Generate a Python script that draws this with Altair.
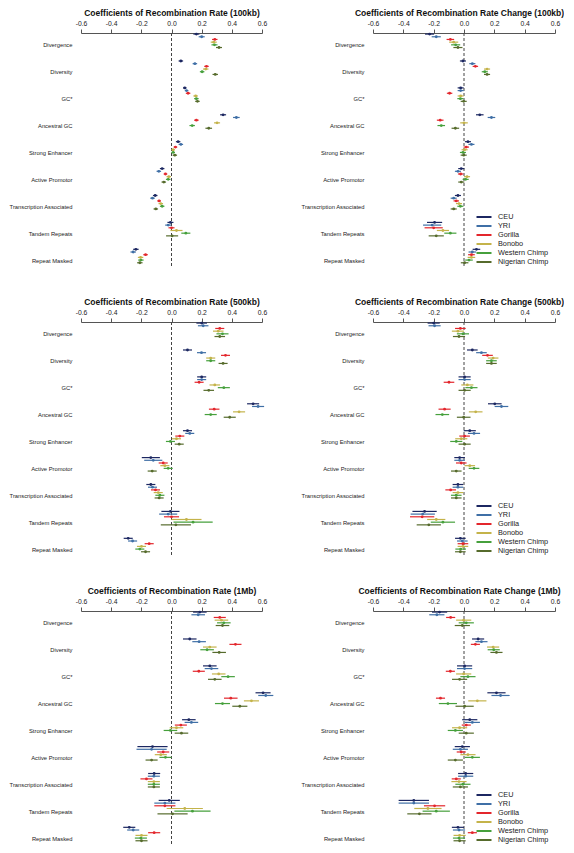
import altair as alt
import pandas as pd

categories = ["Divergence", "Diversity", "GC*", "Ancestral GC", "Strong Enhancer",
              "Active Promotor", "Transcription Associated", "Tandem Repeats", "Repeat Masked"]
series = ["CEU", "YRI", "Gorilla", "Bonobo", "Western Chimp", "Nigerian Chimp"]
colors = ["#1c2761", "#3f6fa6", "#e3262c", "#c4b34a", "#46a03c", "#566b2c"]
x_ticks = [-0.6, -0.4, -0.2, 0.0, 0.2, 0.4, 0.6]

rate100 = [
    [0.165, 0.200, 0.287, 0.280, 0.285, 0.315],
    [0.062, 0.155, 0.232, 0.227, 0.203, 0.290],
    [0.088, 0.100, 0.110, 0.160, 0.165, 0.172],
    [0.342, 0.430, 0.165, 0.302, 0.137, 0.247],
    [0.044, 0.062, 0.026, 0.011, 0.011, 0.022],
    [-0.062, -0.084, -0.040, -0.018, -0.022, -0.051],
    [-0.108, -0.126, -0.082, -0.071, -0.062, -0.104],
    [-0.007, -0.022, 0.000, 0.033, 0.095, 0.004],
    [-0.236, -0.254, -0.172, -0.205, -0.203, -0.210],
]
rate100_err = [
    [0.020, 0.020, 0.018, 0.020, 0.020, 0.020],
    [0.015, 0.015, 0.015, 0.018, 0.015, 0.018],
    [0.012, 0.012, 0.015, 0.015, 0.015, 0.015],
    [0.020, 0.022, 0.015, 0.020, 0.018, 0.022],
    [0.015, 0.015, 0.012, 0.012, 0.012, 0.015],
    [0.015, 0.015, 0.012, 0.015, 0.015, 0.015],
    [0.015, 0.015, 0.012, 0.015, 0.015, 0.015],
    [0.020, 0.020, 0.020, 0.040, 0.030, 0.040],
    [0.018, 0.018, 0.015, 0.018, 0.018, 0.018],
]
change100 = [
    [-0.227, -0.183, -0.090, -0.068, -0.055, -0.040],
    [-0.007, 0.055, 0.075, 0.152, 0.137, 0.152],
    [-0.022, -0.022, -0.095, -0.022, -0.024, -0.002],
    [0.104, 0.181, -0.157, 0.000, -0.150, -0.057],
    [0.026, 0.049, 0.015, 0.004, -0.007, -0.002],
    [-0.018, -0.040, -0.022, 0.020, 0.011, -0.018],
    [-0.040, -0.068, -0.051, -0.033, -0.024, -0.068],
    [-0.194, -0.210, -0.200, -0.139, -0.090, -0.183],
    [0.082, 0.055, 0.049, 0.049, 0.033, 0.004],
]
change100_err = [
    [0.030, 0.030, 0.025, 0.030, 0.030, 0.030],
    [0.020, 0.020, 0.018, 0.020, 0.020, 0.020],
    [0.020, 0.020, 0.018, 0.020, 0.020, 0.020],
    [0.025, 0.025, 0.022, 0.025, 0.025, 0.025],
    [0.020, 0.020, 0.018, 0.020, 0.020, 0.020],
    [0.020, 0.020, 0.018, 0.020, 0.020, 0.020],
    [0.020, 0.020, 0.018, 0.020, 0.020, 0.020],
    [0.050, 0.060, 0.060, 0.040, 0.040, 0.050],
    [0.025, 0.025, 0.022, 0.025, 0.025, 0.025],
]
rate500 = [
    [0.200, 0.210, 0.320, 0.310, 0.338, 0.320],
    [0.106, 0.199, 0.358, 0.260, 0.260, 0.342],
    [0.200, 0.200, 0.183, 0.287, 0.347, 0.247],
    [0.541, 0.574, 0.283, 0.448, 0.260, 0.386],
    [0.106, 0.121, 0.055, 0.033, -0.007, 0.051],
    [-0.137, -0.121, -0.055, -0.044, -0.022, -0.128],
    [-0.137, -0.126, -0.106, -0.088, -0.077, -0.082],
    [-0.007, -0.022, 0.000, 0.099, 0.143, 0.029],
    [-0.287, -0.258, -0.148, -0.199, -0.210, -0.172],
]
rate500_err = [
    [0.035, 0.035, 0.030, 0.035, 0.040, 0.035],
    [0.030, 0.030, 0.030, 0.030, 0.030, 0.030],
    [0.030, 0.030, 0.030, 0.035, 0.040, 0.035],
    [0.040, 0.040, 0.035, 0.040, 0.040, 0.040],
    [0.030, 0.030, 0.030, 0.030, 0.030, 0.030],
    [0.060, 0.060, 0.030, 0.030, 0.030, 0.030],
    [0.030, 0.030, 0.030, 0.030, 0.030, 0.030],
    [0.060, 0.060, 0.050, 0.100, 0.130, 0.100],
    [0.030, 0.030, 0.030, 0.030, 0.030, 0.030],
]
change500 = [
    [-0.200, -0.194, -0.024, -0.040, -0.007, -0.033],
    [0.055, 0.115, 0.155, 0.192, 0.181, 0.181],
    [0.004, 0.004, -0.099, 0.022, 0.049, 0.004],
    [0.203, 0.247, -0.128, 0.077, -0.143, -0.002],
    [0.038, 0.066, 0.004, -0.018, -0.051, 0.004],
    [-0.029, -0.029, -0.018, 0.038, 0.066, -0.051],
    [-0.040, -0.040, -0.088, -0.040, -0.051, -0.051],
    [-0.260, -0.272, -0.276, -0.183, -0.139, -0.232],
    [-0.024, -0.011, -0.007, -0.007, -0.022, -0.024],
]
change500_err = [
    [0.040, 0.040, 0.035, 0.040, 0.040, 0.040],
    [0.035, 0.035, 0.035, 0.035, 0.035, 0.035],
    [0.040, 0.040, 0.035, 0.040, 0.040, 0.040],
    [0.045, 0.045, 0.040, 0.045, 0.045, 0.045],
    [0.040, 0.040, 0.035, 0.040, 0.040, 0.040],
    [0.035, 0.035, 0.035, 0.035, 0.035, 0.035],
    [0.035, 0.035, 0.035, 0.035, 0.035, 0.035],
    [0.080, 0.080, 0.080, 0.060, 0.080, 0.080],
    [0.035, 0.035, 0.035, 0.035, 0.035, 0.035],
]
rate1m = [
    [0.188, 0.177, 0.320, 0.331, 0.347, 0.338],
    [0.121, 0.183, 0.424, 0.254, 0.236, 0.316],
    [0.254, 0.265, 0.181, 0.313, 0.375, 0.287],
    [0.607, 0.625, 0.393, 0.530, 0.338, 0.453],
    [0.115, 0.132, 0.062, 0.033, -0.007, 0.066],
    [-0.126, -0.132, -0.055, -0.071, -0.040, -0.132],
    [-0.115, -0.117, -0.166, -0.117, -0.117, -0.117],
    [-0.015, -0.044, -0.044, 0.088, 0.139, 0.007],
    [-0.280, -0.254, -0.115, -0.199, -0.203, -0.199],
]
rate1m_err = [
    [0.045, 0.045, 0.040, 0.045, 0.045, 0.045],
    [0.045, 0.045, 0.040, 0.045, 0.045, 0.045],
    [0.045, 0.045, 0.040, 0.045, 0.045, 0.045],
    [0.050, 0.050, 0.045, 0.050, 0.050, 0.050],
    [0.045, 0.045, 0.040, 0.045, 0.045, 0.045],
    [0.100, 0.100, 0.040, 0.040, 0.040, 0.040],
    [0.040, 0.040, 0.040, 0.040, 0.040, 0.040],
    [0.070, 0.070, 0.070, 0.120, 0.120, 0.100],
    [0.040, 0.040, 0.040, 0.040, 0.040, 0.040],
]
change1m = [
    [-0.161, -0.179, -0.088, -0.002, 0.015, -0.011],
    [0.093, 0.115, 0.075, 0.192, 0.196, 0.214],
    [0.004, 0.004, -0.090, -0.002, 0.026, -0.029],
    [0.214, 0.241, -0.155, 0.088, -0.106, 0.004],
    [0.038, 0.055, 0.015, -0.029, -0.057, 0.015],
    [-0.011, -0.024, -0.018, 0.026, 0.055, -0.057],
    [0.011, 0.011, -0.051, -0.033, -0.007, -0.024],
    [-0.331, -0.331, -0.194, -0.238, -0.183, -0.294],
    [-0.040, -0.033, 0.055, -0.029, -0.033, -0.029],
]
change1m_err = [
    [0.050, 0.050, 0.030, 0.050, 0.050, 0.050],
    [0.040, 0.040, 0.030, 0.040, 0.040, 0.040],
    [0.050, 0.050, 0.030, 0.050, 0.050, 0.050],
    [0.060, 0.060, 0.030, 0.060, 0.060, 0.060],
    [0.050, 0.050, 0.030, 0.050, 0.050, 0.050],
    [0.050, 0.050, 0.030, 0.050, 0.050, 0.050],
    [0.050, 0.050, 0.030, 0.050, 0.050, 0.050],
    [0.100, 0.100, 0.070, 0.090, 0.090, 0.080],
    [0.040, 0.040, 0.030, 0.040, 0.040, 0.040],
]

FONT = "Liberation Sans"
label_expr = "[" + ",".join("'" + c + "'" for c in categories) + "][datum.value]"


def panel_df(values, errs):
    rows = []
    for ci, cat in enumerate(categories):
        for si, ser in enumerate(series):
            v = values[ci][si]
            e = errs[ci][si]
            rows.append(dict(category=cat, series=ser, est=v, lo=v - e, hi=v + e,
                             ypos=ci + (si - 4) * 0.1))
    return pd.DataFrame(rows)


def panel(values, errs, title, width, legend, title_x):
    df = panel_df(values, errs)
    xscale = alt.Scale(domain=[-0.6, 0.6], nice=False, zero=False)
    yscale = alt.Scale(domain=[-0.44, 8.22], nice=False, zero=False, reverse=True)
    yaxis = alt.Axis(values=list(range(9)), labelExpr=label_expr, domain=False, ticks=False,
                     tickSize=0, grid=False, labelFontSize=5.8, labelPadding=9,
                     labelColor="#222222", title=None, labelFont=FONT,
                     minExtent=73, maxExtent=73)
    xaxis = alt.Axis(orient="top", values=x_ticks,
                     labelExpr="replace(format(datum.value, '.1f'), '\u2212', '-')",
                     grid=False, tickSize=4, labelPadding=3, labelFontSize=6.8,
                     labelFlush=False, domainColor="#555555", tickColor="#555555",
                     labelColor="#222222", labelFont=FONT,
                     minExtent=14, maxExtent=14,
                     title=title, titleFont=FONT, titleFontSize=8.5, titleFontWeight="bold",
                     titleColor="#111111", titleX=title_x, titleY=-17.5,
                     titleBaseline="alphabetic", titleAlign="center")
    zero = alt.Chart(pd.DataFrame({"z": [0.0]})).mark_rule(
        strokeDash=[3, 2], color="#444444", strokeWidth=1
    ).encode(x=alt.X("z:Q", scale=xscale, axis=xaxis))
    if legend:
        leg = alt.Legend(title=None, orient="none", legendX=107, legendY=180,
                         symbolType="M-2.5,0H2.5", symbolSize=36, symbolStrokeWidth=2,
                         labelFontSize=7.3, labelFont=FONT, labelOffset=10,
                         rowPadding=1, padding=0, labelColor="#222222")
    else:
        leg = None
    bars = alt.Chart(df).mark_rule(strokeWidth=1.2).encode(
        x=alt.X("lo:Q", scale=xscale, axis=xaxis),
        x2="hi:Q",
        y=alt.Y("ypos:Q", scale=yscale, axis=yaxis),
        color=alt.Color("series:N", scale=alt.Scale(domain=series, range=colors),
                        sort=series, legend=leg),
    )
    pts = alt.Chart(df).mark_point(filled=True, size=8, opacity=1).encode(
        x=alt.X("est:Q", scale=xscale, axis=xaxis),
        y=alt.Y("ypos:Q", scale=yscale, axis=yaxis),
        fill=alt.Fill("series:N", scale=alt.Scale(domain=series, range=colors), legend=None),
    )
    return alt.layer(zero, bars, pts).properties(width=width, height=233)


def row(left_vals, left_err, left_title, right_vals, right_err, right_title):
    return alt.hconcat(
        panel(left_vals, left_err, left_title, 181, False, 90.5),
        panel(right_vals, right_err, right_title, 182, True, 86),
        spacing=111, bounds="flush",
    ).resolve_legend(color="independent")


chart = alt.vconcat(
    row(rate100, rate100_err, "Coefficients of Recombination Rate (100kb)",
        change100, change100_err, "Coefficients of Recombination Rate Change (100kb)"),
    row(rate500, rate500_err, "Coefficients of Recombination Rate (500kb)",
        change500, change500_err, "Coefficients of Recombination Rate Change (500kb)"),
    row(rate1m, rate1m_err, "Coefficients of Recombination Rate (1Mb)",
        change1m, change1m_err, "Coefficients of Recombination Rate Change (1Mb)"),
    spacing=30,
).resolve_legend(color="independent").properties(
    padding=0, background="white"
).configure(font=FONT).configure_view(stroke=None)

chart.save("out.html", embed_options={"renderer": "svg", "actions": False})
